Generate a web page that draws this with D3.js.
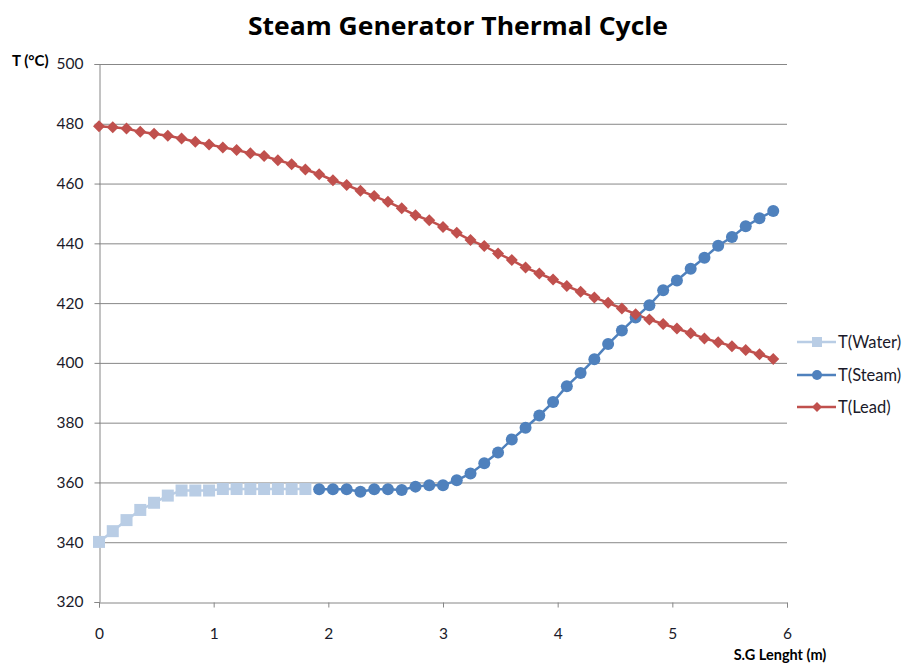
<!DOCTYPE html>
<html>
<head>
<meta charset="utf-8">
<script src="https://cdn.jsdelivr.net/npm/d3@7/dist/d3.min.js"></script>
<style>
  html, body { margin: 0; padding: 0; background: #fff; }
  svg { display: block; }
  text { font-family: Lato, "Open Sans", sans-serif; }
</style>
</head>
<body>
<svg id="chart" width="906" height="666"></svg>
<script>
// Position along the steam generator, 0.12 m between stations (m)
const step = 0.12;
const stations = d3.range(50).map(i => +(i * step).toFixed(2));

// Water side (stations 0-15), °C
const waterT = [340.1, 343.7, 347.4, 350.8, 353.2, 355.6, 357.3, 357.3,
                357.3, 357.8, 357.8, 357.8, 357.8, 357.8, 357.8, 357.8];

// Steam side (stations 16-49), °C
const steamT = [357.7, 357.7, 357.7, 356.9, 357.7, 357.7, 357.5, 358.6,
                359.1, 359.1, 360.7, 363.0, 366.4, 370.0, 374.4, 378.3,
                382.4, 386.9, 392.2, 396.6, 401.2, 406.3, 410.8, 415.2,
                419.3, 424.3, 427.6, 431.5, 435.2, 439.2, 442.1, 445.7,
                448.4, 450.8];

// Lead coolant (stations 0-49), °C
const leadT = [479.2, 478.8, 478.4, 477.3, 476.7, 476.0, 475.1, 474.0,
               473.1, 472.1, 471.2, 470.1, 469.2, 467.8, 466.5, 464.7,
               463.1, 461.1, 459.5, 457.6, 455.8, 453.9, 451.7, 449.4,
               447.7, 445.5, 443.5, 441.1, 439.1, 436.6, 434.4, 431.9,
               429.9, 427.9, 425.7, 423.8, 421.9, 420.1, 418.2, 416.3,
               414.5, 413.0, 411.5, 409.9, 408.2, 406.9, 405.6, 404.3,
               402.9, 401.3];

const xTicks = [0, 1, 2, 3, 4, 5, 6];
const yTicks = [320, 340, 360, 380, 400, 420, 440, 460, 480, 500];

const seriesNames = ["T(Water)", "T(Steam)", "T(Lead)"];
const colors = { "T(Water)": "#B9CDE5", "T(Steam)": "#4F81BD", "T(Lead)": "#C0504D" };

const waterPts = waterT.map((t, i) => ({ x: stations[i], y: t }));
const steamPts = steamT.map((t, i) => ({ x: stations[i + 16], y: t }));
const leadPts  = leadT.map((t, i) => ({ x: stations[i], y: t }));

const svg = d3.select("#chart");
const m = { left: 99, right: 787, top: 64, bottom: 602 };
const labelFill = "#1a1a2a";

const x = d3.scaleLinear().domain([0, 6]).range([m.left, m.right]);
const y = d3.scaleLinear().domain([320, 500]).range([m.bottom, m.top]);

// Horizontal gridlines
svg.append("g")
  .selectAll("line")
  .data(yTicks.slice(1))
  .join("line")
  .attr("x1", m.left).attr("x2", m.right)
  .attr("y1", d => y(d) + 0.5).attr("y2", d => y(d) + 0.5)
  .attr("stroke", "#878787").attr("stroke-width", 1);

// Y axis
const yAxis = svg.append("g")
  .attr("transform", `translate(${m.left + 0.5},0)`)
  .call(d3.axisLeft(y).tickValues(yTicks).tickSize(5).tickPadding(11));
yAxis.select(".domain").attr("stroke", "#868686");
yAxis.selectAll(".tick line").attr("stroke", "#868686");
yAxis.selectAll(".tick text")
  .attr("fill", labelFill).style("font-size", "15.5px")
  .style("font-family", "Lato, 'Open Sans', sans-serif");

// X axis
const xAxis = svg.append("g")
  .attr("transform", `translate(0,${m.bottom + 0.5})`)
  .call(d3.axisBottom(x).tickValues(xTicks).tickSize(5).tickPadding(20).tickFormat(d3.format("d")));
xAxis.select(".domain").attr("stroke", "#868686");
xAxis.selectAll(".tick line").attr("stroke", "#868686");
xAxis.selectAll(".tick text")
  .attr("fill", labelFill).style("font-size", "15.5px")
  .style("font-family", "Lato, 'Open Sans', sans-serif");

// Lines
const line = d3.line().x(d => x(d.x)).y(d => y(d.y));
const drawSeries = (pts, name) => {
  svg.append("path")
    .datum(pts)
    .attr("fill", "none")
    .attr("stroke", colors[name])
    .attr("stroke-width", 2.5)
    .attr("d", line);
};
drawSeries(waterPts, "T(Water)");
drawSeries(steamPts, "T(Steam)");
drawSeries(leadPts, "T(Lead)");

// Markers
const sq = 12, r = 6, dm = 6;
svg.append("g").selectAll("rect").data(waterPts).join("rect")
  .attr("x", d => x(d.x) - sq / 2).attr("y", d => y(d.y) - sq / 2)
  .attr("width", sq).attr("height", sq)
  .attr("fill", colors["T(Water)"]);
svg.append("g").selectAll("circle").data(steamPts).join("circle")
  .attr("cx", d => x(d.x)).attr("cy", d => y(d.y)).attr("r", r)
  .attr("fill", colors["T(Steam)"]);
const diamond = (cx, cy, s) => `M${cx},${cy - s}L${cx + s},${cy}L${cx},${cy + s}L${cx - s},${cy}Z`;
svg.append("g").selectAll("path").data(leadPts).join("path")
  .attr("d", d => diamond(x(d.x), y(d.y), dm))
  .attr("fill", colors["T(Lead)"]);

// Legend
const legend = svg.append("g");
const legY = [342, 375, 407];
seriesNames.forEach((name, i) => {
  const g = legend.append("g").attr("transform", `translate(797,${legY[i]})`);
  g.append("line").attr("x1", 0).attr("x2", 39).attr("y1", 0).attr("y2", 0)
    .attr("stroke", colors[name]).attr("stroke-width", 2.5);
  if (i === 0) {
    g.append("rect").attr("x", 15).attr("y", -5).attr("width", 10).attr("height", 10)
      .attr("fill", colors[name]);
  } else if (i === 1) {
    g.append("circle").attr("cx", 20).attr("cy", 0).attr("r", 5).attr("fill", colors[name]);
  } else {
    g.append("path").attr("d", diamond(20, 0, 5)).attr("fill", colors[name]);
  }
  g.append("text").attr("x", 41).attr("y", 6)
    .attr("fill", labelFill).style("font-size", "16.5px")
    .text(name);
});

// Titles
svg.append("text")
  .attr("x", 458).attr("y", 35)
  .attr("text-anchor", "middle")
  .attr("textLength", 420).attr("lengthAdjust", "spacingAndGlyphs")
  .style("font-family", "'Open Sans', Lato, sans-serif")
  .style("font-size", "25px").style("font-weight", "bold")
  .attr("fill", "#000")
  .text("Steam Generator Thermal Cycle");

svg.append("text")
  .attr("x", 12).attr("y", 66)
  .style("font-size", "15px").style("font-weight", "bold")
  .attr("fill", "#000")
  .text("T (°C)");

svg.append("text")
  .attr("x", 780).attr("y", 660)
  .attr("text-anchor", "middle")
  .style("font-size", "14.5px").style("font-weight", "bold")
  .attr("fill", "#000")
  .text("S.G Lenght (m)");
</script>
</body>
</html>
